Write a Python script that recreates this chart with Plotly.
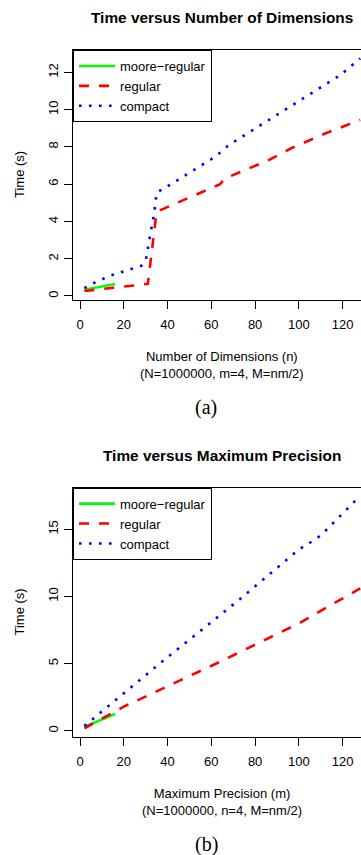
import plotly.graph_objects as go

# ---------------- data ----------------
# (a) Time versus Number of Dimensions
dims_moore = [2, 16]
time_dims_moore = [0.34, 0.64]
dims_regular = [2, 31, 35, 64, 66, 86, 96, 112, 128]
time_dims_regular = [0.27, 0.65, 4.52, 6.0, 6.3, 7.28, 7.9, 8.72, 9.45]
dims_compact = [2, 6, 14, 23, 28, 30, 32, 34, 35, 39, 62, 68, 119, 128]
time_dims_compact = [0.42, 0.68, 1.1, 1.43, 1.62, 1.88, 3.25, 4.55, 5.55, 5.81, 7.49, 8.1, 11.86, 12.75]

# (b) Time versus Maximum Precision
prec_moore = [2, 16]
time_prec_moore = [0.3, 1.24]
prec_regular = [2, 20, 64, 100, 128]
time_prec_regular = [0.18, 1.79, 5.14, 8.0, 10.6]
prec_compact = [2, 36, 72, 100, 108, 111, 128]
time_prec_compact = [0.35, 4.95, 9.66, 13.5, 14.3, 14.7, 17.5]

series_names = ["moore\u2212regular", "regular", "compact"]
x_ticks = [0, 20, 40, 60, 80, 100, 120]
y_ticks_a = [0, 2, 4, 6, 8, 10, 12]
y_ticks_b = [0, 5, 10, 15]

# ---------------- layout helpers ----------------
W, H = 361, 855
FONT = "Liberation Sans, Arial, Helvetica, sans-serif"
SERIF = "Liberation Serif, Times New Roman, serif"


def fx(p):
    return p / W


def fy(p):
    return 1 - p / H


styles = [
    dict(color="#00FF00", width=2.6, dash="solid"),
    dict(color="#FF0000", width=2.6, dash="10px,10px"),
    dict(color="#0000FF", width=2.6, dash="2.6px,7.4px"),
]

fig = go.Figure()

panel_a = [(dims_moore, time_dims_moore), (dims_regular, time_dims_regular),
           (dims_compact, time_dims_compact)]
panel_b = [(prec_moore, time_prec_moore), (prec_regular, time_prec_regular),
           (prec_compact, time_prec_compact)]

for (xs, ys), name, st in zip(panel_a, series_names, styles):
    fig.add_trace(go.Scatter(x=xs, y=ys, mode="lines", name=name, line=st,
                             xaxis="x", yaxis="y", legend="legend"))
for (xs, ys), name, st in zip(panel_b, series_names, styles):
    fig.add_trace(go.Scatter(x=xs, y=ys, mode="lines", name=name, line=st,
                             xaxis="x2", yaxis="y2", legend="legend2"))

x_dom = [fx(73), 1.0]
x_range = [-3.2, 128.37]

axis_common = dict(showline=True, linecolor="black", linewidth=1, ticks="outside",
                   ticklen=8, tickcolor="black", tickwidth=1, showgrid=False,
                   zeroline=False, tickfont=dict(family=FONT, size=13, color="black"))

fig.update_layout(
    width=W, height=H,
    margin=dict(l=0, r=0, t=0, b=0),
    paper_bgcolor="white", plot_bgcolor="white",
    font=dict(family=FONT, size=13, color="black"),
    xaxis=dict(domain=x_dom, range=x_range, tickvals=x_ticks, anchor="y",
               mirror=True, ticklabelstandoff=4, **axis_common),
    yaxis=dict(domain=[fy(300), fy(50)], range=[-0.215, 13.2], tickvals=y_ticks_a,
               anchor="x", tickangle=-90, ticklabelstandoff=1, **axis_common),
    xaxis2=dict(domain=x_dom, range=x_range, tickvals=x_ticks, anchor="y2",
                mirror=True, ticklabelstandoff=4, **axis_common),
    yaxis2=dict(domain=[fy(737.3), fy(487.7)], range=[-0.49, 18.1], tickvals=y_ticks_b,
                anchor="x2", tickangle=-90, ticklabelstandoff=1, **axis_common),
    legend=dict(x=fx(73), y=fy(50), xanchor="left", yanchor="top",
                bgcolor="white", bordercolor="black", borderwidth=1,
                font=dict(family=FONT, size=13, color="black"), itemwidth=36,
                tracegroupgap=0),
    legend2=dict(x=fx(73), y=fy(487.7), xanchor="left", yanchor="top",
                 bgcolor="white", bordercolor="black", borderwidth=1,
                 font=dict(family=FONT, size=13, color="black"), itemwidth=36,
                 tracegroupgap=0),
    showlegend=True,
)

ann = []
# panel titles
ann.append(dict(text="<b>Time versus Number of Dimensions</b>", x=fx(222), y=fy(18),
                font=dict(family=FONT, size=15.4, color="black")))
ann.append(dict(text="<b>Time versus Maximum Precision</b>", x=fx(222), y=fy(455.7),
                font=dict(family=FONT, size=15.4, color="black")))
# x axis titles
ann.append(dict(text="Number of Dimensions (n)<br>(N=1000000, m=4, M=nm/2)", x=fx(222),
                y=fy(364.7), font=dict(family=FONT, size=13, color="black")))
ann.append(dict(text="Maximum Precision (m)<br>(N=1000000, n=4, M=nm/2)", x=fx(222),
                y=fy(801.7), font=dict(family=FONT, size=13, color="black")))
# y axis titles
ann.append(dict(text="Time (s)", x=fx(19), y=fy(175), textangle=-90,
                font=dict(family=FONT, size=13, color="black")))
ann.append(dict(text="Time (s)", x=fx(19), y=fy(612.5), textangle=-90,
                font=dict(family=FONT, size=13, color="black")))
# captions
ann.append(dict(text="(a)", x=fx(206), y=fy(407.5), font=dict(family=SERIF, size=20, color="black")))
ann.append(dict(text="(b)", x=fx(206), y=fy(844), font=dict(family=SERIF, size=20, color="black")))

for a in ann:
    a.update(xref="paper", yref="paper", xanchor="center", yanchor="middle", showarrow=False)
fig.update_layout(annotations=ann)

fig.write_html("out.html", config={"displayModeBar": False},
               post_script="document.body.style.margin='0px';document.body.style.overflow='hidden';")
